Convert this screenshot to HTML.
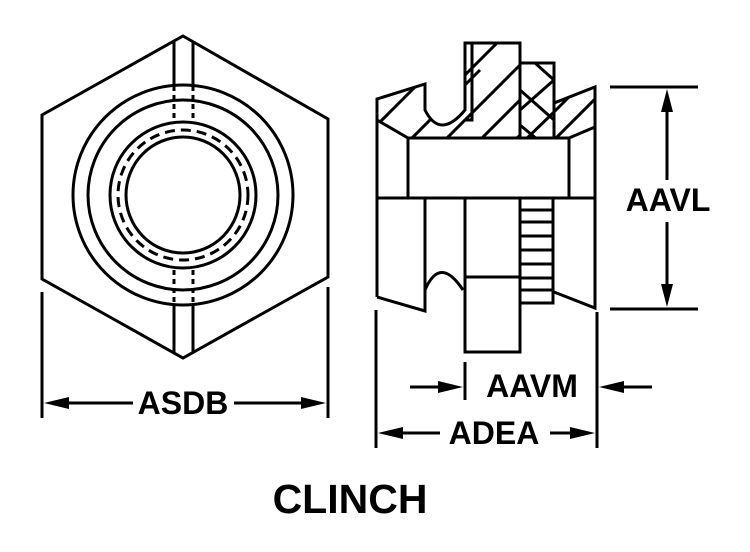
<!DOCTYPE html>
<html><head><style>body{margin:0;background:#fff}svg{display:block}</style></head><body>
<svg width="750" height="552" viewBox="0 0 750 552" xmlns="http://www.w3.org/2000/svg">
<defs>
<clipPath id="hc"><path d="M377,99 L425,84 L425,110 Q440,140 465,110 L465,43 L520,43 L520,63 L554,63 L554,103 L595,87 L595,127 L569,138 L408,138 L377,120 Z"/></clipPath>
</defs>
<g fill="none" stroke="#000" stroke-width="3">
<polygon points="183,36 328,119 328,277 183,358 42,279 42,115"/>
<line x1="174" y1="42" x2="174" y2="84"/><line x1="193" y1="42" x2="193" y2="84"/>
<line x1="174" y1="306" x2="174" y2="353"/><line x1="193" y1="306" x2="193" y2="353"/>
<g stroke-dasharray="5,4"><line x1="174" y1="86" x2="174" y2="121"/><line x1="193" y1="86" x2="193" y2="121"/>
<line x1="174" y1="270" x2="174" y2="305"/><line x1="193" y1="270" x2="193" y2="305"/></g>
<circle cx="183" cy="195" r="110"/><circle cx="183" cy="195" r="95"/><circle cx="183" cy="195" r="73"/>
<circle cx="183" cy="195" r="65" stroke-dasharray="10,6"/>
<ellipse cx="183" cy="195" rx="57" ry="58"/>
<line x1="42" y1="292" x2="42" y2="418"/><line x1="328" y1="287" x2="328" y2="418"/>
<path d="M377,120 L377,99 L425,84 L425,110 Q440,140 465,110 L465,43 L520,43 L520,138"/>
<path d="M472,43 L472,120 L465,120"/>
<path d="M520,63 L554,63 L554,103 L595,87 L595,308 L554,292"/>
<path d="M377,120 L408,138 L569,138 L595,127"/>
<rect x="408" y="138" width="161" height="60"/>
<line x1="377" y1="198" x2="595" y2="198"/>
<line x1="377" y1="120" x2="377" y2="297"/>
<path d="M377,297 L425,311 L425,198"/>
<path d="M425,290 Q440,255 463,290"/>
<rect x="465" y="198" width="55" height="154"/>
<line x1="465" y1="277" x2="520" y2="277"/>
<rect x="520" y="198" width="33" height="105"/>
<line x1="554" y1="63" x2="554" y2="138"/>
</g>
<g stroke="#000" stroke-width="3" clip-path="url(#hc)">
<line x1="377" y1="125" x2="430" y2="72"/><line x1="405" y1="145" x2="480" y2="70"/>
<line x1="440" y1="145" x2="520" y2="65"/><line x1="475" y1="145" x2="520" y2="100"/>
<line x1="465" y1="75" x2="500" y2="40"/><line x1="510" y1="145" x2="520" y2="135"/>
<path d="M520,90 L554,120 M520,125 L550,150 M520,110 L554,80 M520,145 L554,112 M535,63 L554,80" fill="none"/>
<line x1="554" y1="140" x2="600" y2="94"/><line x1="554" y1="112" x2="580" y2="86"/><line x1="580" y1="145" x2="610" y2="115"/>
</g>
<g stroke="#000" stroke-width="3">
<line x1="520" y1="210" x2="553" y2="210"/><line x1="520" y1="222" x2="553" y2="222"/>
<line x1="520" y1="236" x2="553" y2="236"/><line x1="520" y1="250" x2="553" y2="250"/>
<line x1="520" y1="264" x2="553" y2="264"/><line x1="520" y1="278" x2="553" y2="278"/>
<line x1="520" y1="290" x2="553" y2="290"/>
<line x1="610" y1="87" x2="698" y2="87"/><line x1="610" y1="309" x2="698" y2="309"/>
<line x1="667" y1="100" x2="667" y2="180"/><line x1="667" y1="222" x2="667" y2="296"/>
<line x1="465" y1="362" x2="465" y2="400"/><line x1="597" y1="312" x2="597" y2="448"/>
<line x1="376" y1="310" x2="376" y2="448"/>
<line x1="410" y1="387" x2="450" y2="387"/><line x1="612" y1="387" x2="652" y2="387"/>
<line x1="390" y1="433" x2="440" y2="433"/><line x1="550" y1="433" x2="585" y2="433"/>
<line x1="55" y1="403" x2="133" y2="403"/><line x1="234" y1="403" x2="315" y2="403"/>
</g>
<g fill="#000">
<polygon points="667,89 661,112 673,112"/><polygon points="667,307 661,284 673,284"/>
<polygon points="463,387 438,381 438,393"/><polygon points="599,387 624,381 624,393"/>
<polygon points="378,433 403,427 403,439"/><polygon points="595,433 570,427 570,439"/>
<polygon points="44,403 69,397 69,409"/><polygon points="326,403 301,397 301,409"/>
</g>
<g font-family="Liberation Sans, sans-serif" font-weight="bold" font-size="32" fill="#000">
<text x="668" y="211" text-anchor="middle">AAVL</text>
<text x="532" y="397" text-anchor="middle">AAVM</text>
<text x="494" y="444" text-anchor="middle">ADEA</text>
<text x="183" y="414" text-anchor="middle">ASDB</text>
<text x="350" y="513" text-anchor="middle" font-size="41">CLINCH</text>
</g>
</svg>
</body></html>
